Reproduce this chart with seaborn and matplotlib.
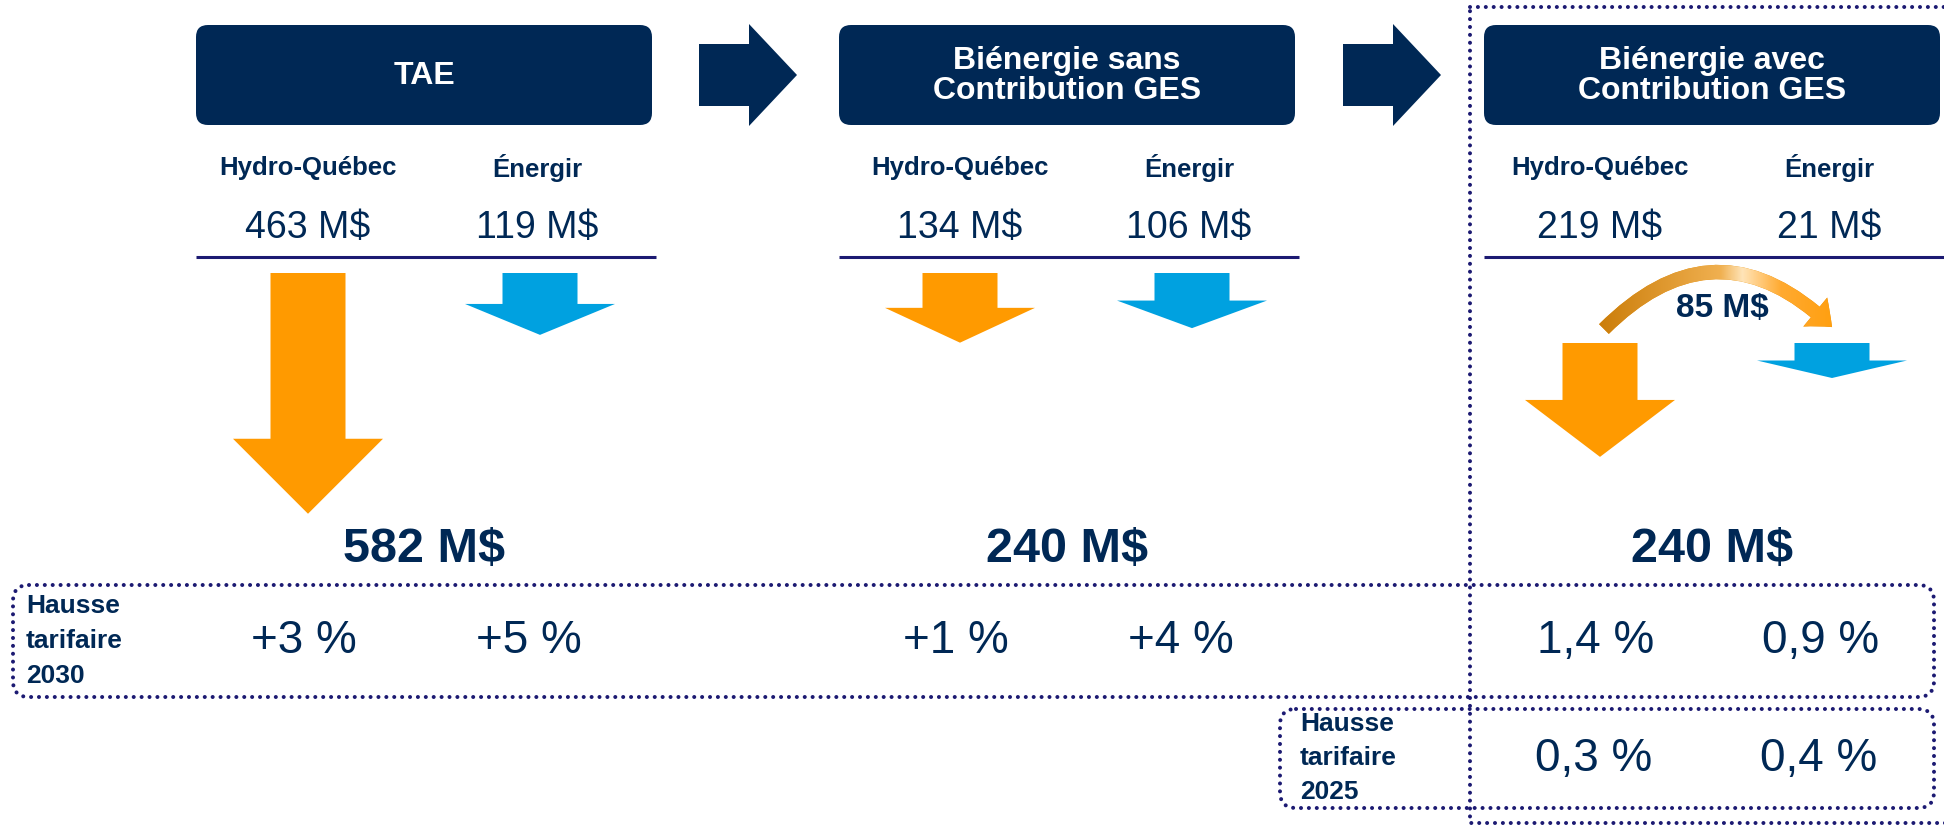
import numpy as np
import matplotlib
matplotlib.use('Agg')
import matplotlib.pyplot as plt
from matplotlib.patches import FancyBboxPatch, FancyArrowPatch, Polygon
from matplotlib.colors import LinearSegmentedColormap
import seaborn as sns

# Data
scenarios = ['TAE', 'Biénergie sans\nContribution GES', 'Biénergie avec\nContribution GES']
companies = ['Hydro-Québec', 'Énergir']
hq_cost = [463, 134, 219]          # M$
energir_cost = [119, 106, 21]      # M$
transfer = 85                      # M$ moved from HQ to Énergir in the last scenario
hausse_2030_hq = ['+3 %', '+1 %', '1,4 %']
hausse_2030_en = ['+5 %', '+4 %', '0,9 %']
hausse_2025_hq = '0,3 %'
hausse_2025_en = '0,4 %'

totals = [h + e for h, e in zip(hq_cost, energir_cost)]

# Style
sns.set_style('white')
plt.rcParams['font.family'] = ['Liberation Sans', 'DejaVu Sans']
navy = '#002855'
indigo = '#1c1a72'
orange = '#ff9a00'
blue = '#00a1e0'

fig = plt.figure(figsize=(19.44, 8.25), dpi=100)
ax = fig.add_axes([0, 0, 1, 1])

box_left = [196, 839, 1484]
box_w = 456
col_shift = [-2, 7, 2]
arrow_top = [273, 273, 343]


def down_arrow(cx, top, value, color):
    # arrow length grows with the amount
    length = max(35, 0.52 * value)
    head = min(0.5 * length, 75)
    sw, hw = 37.5, 75
    pts = [(cx - sw, top), (cx + sw, top), (cx + sw, top + length - head),
           (cx + hw, top + length - head), (cx, top + length),
           (cx - hw, top + length - head), (cx - sw, top + length - head)]
    ax.add_patch(Polygon(pts, closed=True, facecolor=color, edgecolor='none'))


def dotted_box(x, y, w, h, rounded=True):
    style = 'round,pad=0,rounding_size=16' if rounded else 'square,pad=0'
    p = FancyBboxPatch((x, y), w, h, boxstyle=style, fill=False,
                       edgecolor=indigo, linewidth=2.9, linestyle=(0, (0.01, 1.95)))
    p.set_capstyle('round')
    ax.add_patch(p)


for i, name in enumerate(scenarios):
    x0 = box_left[i]
    cx = x0 + box_w / 2
    col_hq = cx - 114 + col_shift[i]
    col_en = cx + 115 + col_shift[i]

    ax.add_patch(FancyBboxPatch((x0, 25), box_w, 100,
                                boxstyle='round,pad=0,rounding_size=12',
                                facecolor=navy, edgecolor='none'))
    ax.text(cx, 76, name, ha='center', va='center', color='white',
            fontsize=23, fontweight='bold', linespacing=1.0)

    ax.text(col_hq, 168, companies[0], ha='center', va='center', color=navy,
            fontsize=18.5, fontweight='bold')
    ax.text(col_en, 168, companies[1], ha='center', va='center', color=navy,
            fontsize=18.5, fontweight='bold')
    ax.text(col_hq, 228, f'{hq_cost[i]} M$', ha='center', va='center',
            color=navy, fontsize=27)
    ax.text(col_en, 228, f'{energir_cost[i]} M$', ha='center', va='center',
            color=navy, fontsize=27)
    ax.plot([x0, x0 + 460], [257, 257], color=indigo, lw=2.2,
            solid_capstyle='butt')

    down_arrow(col_hq, arrow_top[i], hq_cost[i], orange)
    down_arrow(col_en + 3, arrow_top[i], energir_cost[i], blue)

    ax.text(cx, 549, f'{totals[i]} M$', ha='center', va='center', color=navy,
            fontsize=35, fontweight='bold')

    ax.text(col_hq - 4, 641, hausse_2030_hq[i], ha='center', va='center',
            color=navy, fontsize=33)
    ax.text(col_en - 8, 641, hausse_2030_en[i], ha='center', va='center',
            color=navy, fontsize=33)

# chevrons between scenarios
for x0 in [699, 1343]:
    pts = [(x0, 44), (x0 + 50, 44), (x0 + 50, 24), (x0 + 98, 75),
           (x0 + 50, 126), (x0 + 50, 106), (x0, 106)]
    ax.add_patch(Polygon(pts, closed=True, facecolor=navy, edgecolor='none'))

# transfer from Hydro-Québec to Énergir, shaded like the original
cx3 = box_left[2] + box_w / 2
ax_start, ax_end = cx3 - 110, cx3 + 122
arc = FancyArrowPatch((ax_start, 331), (ax_end, 329),
                      connectionstyle='arc3,rad=-0.5',
                      arrowstyle='simple,head_length=0.9,head_width=1.5,tail_width=0.55',
                      mutation_scale=18, facecolor='#e58c00', edgecolor='none')
ax.add_patch(arc)
shade = LinearSegmentedColormap.from_list(
    'shade', [(0, '#c67600'), (0.5, '#f0b050'), (0.58, '#ffe4b8'),
              (0.72, '#ffaa30'), (1, '#ff9a00')])
img = ax.imshow(np.linspace(0, 1, 256)[None, :], cmap=shade, aspect='auto',
                extent=(ax_start - 20, ax_end + 25, 340, 255), zorder=2.5)
img.set_clip_path(arc)
ax.text(cx3 + 10, 309, f'{transfer} M$', ha='center', va='center', color=navy,
        fontsize=24, fontweight='bold', zorder=3)

# rate increase boxes
dotted_box(13, 585, 1921, 112)
ax.text(26, 641, 'Hausse\ntarifaire\n2030', ha='left', va='center', color=navy,
        fontsize=19, fontweight='bold', linespacing=1.6)

dotted_box(1280, 709, 654, 99)
ax.text(1300, 758, 'Hausse\ntarifaire\n2025', ha='left', va='center', color=navy,
        fontsize=19, fontweight='bold', linespacing=1.55)
ax.text(cx3 - 118, 759, hausse_2025_hq, ha='center', va='center', color=navy,
        fontsize=33)
ax.text(cx3 + 107, 759, hausse_2025_en, ha='center', va='center', color=navy,
        fontsize=33)

# outline around the retained scenario
dotted_box(1470, 7, 490, 816, rounded=False)

ax.set_xlim(0, 1944)
ax.set_ylim(825, 0)
ax.axis('off')

fig.savefig('out.png', dpi=100)
